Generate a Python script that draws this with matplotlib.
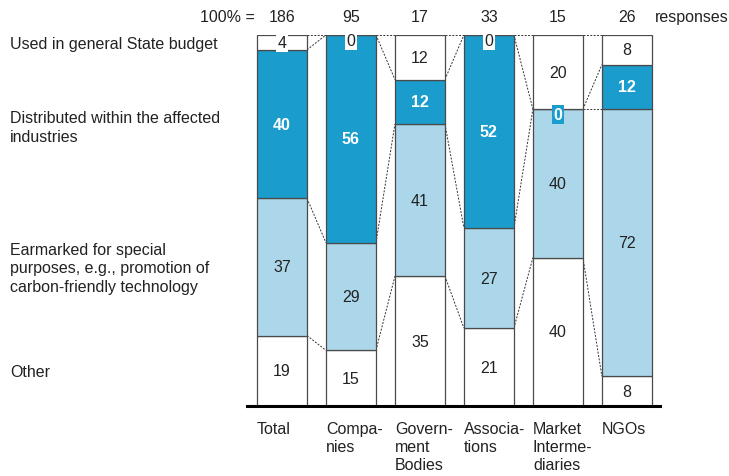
import numpy as np
import matplotlib.pyplot as plt

plt.rcParams['font.family'] = ['Liberation Sans', 'DejaVu Sans']

# Daten
categories = ['Total', 'Compa-\nnies', 'Govern-\nment\nBodies', 'Associa-\ntions',
              'Market\nInterme-\ndiaries', 'NGOs']
responses = [186, 95, 17, 33, 15, 26]
segments = ['Other',
            'Earmarked for special\npurposes, e.g., promotion of\ncarbon-friendly technology',
            'Distributed within the affected\nindustries',
            'Used in general State budget']
other = [19, 15, 35, 21, 40, 8]
earmarked = [37, 29, 41, 27, 40, 72]
distributed = [40, 56, 12, 52, 0, 12]
general = [4, 0, 12, 0, 20, 8]

DARK = '#1a9ccc'
LIGHT = '#acd7ea'
EDGE = '#4a4a4a'
TXT = '#222222'
FS = 11.5


def main():
    values = np.array([other, earmarked, distributed, general], dtype=float)
    colors = ['white', LIGHT, DARK, 'white']
    x = np.arange(len(categories))
    w = 0.725

    fig = plt.figure(figsize=(7.29, 4.77), dpi=100)
    ax = fig.add_axes([247 / 729, 70 / 477, 413 / 729, 371 / 477])
    ax.set_xlim(-0.507, 5.48)
    ax.set_ylim(0, 100)
    ax.axis('off')

    bottoms = np.zeros(len(categories))
    for k in range(4):
        ax.bar(x, values[k], width=w, bottom=bottoms, color=colors[k],
               edgecolor=EDGE, linewidth=0.9, zorder=2)
        for i in range(len(categories)):
            v = values[k][i]
            if v == 0:
                yc = bottoms[i] - 1.5
            else:
                yc = bottoms[i] + v / 2
            if k == 2:
                box = dict(boxstyle='square,pad=0.12', fc=DARK, ec='none') if v == 0 else None
                ax.text(x[i], yc, f'{v:.0f}', ha='center', va='center', color='white',
                        fontsize=FS, fontweight='bold', bbox=box, zorder=5)
            else:
                box = dict(boxstyle='square,pad=0.12', fc='white', ec='none') if v < 6 else None
                ax.text(x[i], yc, f'{v:.0f}', ha='center', va='center', color=TXT,
                        fontsize=FS, bbox=box, zorder=5)
        bottoms += values[k]

    # Verbindungslinien
    cum = np.cumsum(values, axis=0)
    for i in range(len(categories) - 1):
        for k in range(4):
            ax.plot([x[i] + w / 2, x[i + 1] - w / 2], [cum[k][i], cum[k][i + 1]],
                    ls=(0, (2, 1.5)), color='#333333', lw=0.7, zorder=1)

    # Basislinie
    ax.plot([-0.507, 5.48], [0, 0], color='black', lw=2.2, clip_on=False, zorder=4)

    # Kategorien unten
    for i, c in enumerate(categories):
        ax.text(x[i] - w / 2, -4.0, c, ha='left', va='top', fontsize=FS,
                color=TXT, linespacing=1.27)

    # Antworten oben
    ax.text(-0.39, 104.9, '100% =', ha='right', va='center', fontsize=FS, color=TXT)
    for i, n in enumerate(responses):
        ax.text(x[i], 104.9, str(n), ha='center', va='center', fontsize=FS, color=TXT)
    ax.text(5.41, 104.9, 'responses', ha='left', va='center', fontsize=FS, color=TXT)

    # Legende links
    for lab, yp in zip(segments, [9.4, 37.2, 75.2, 97.8]):
        ax.text(-3.94, yp, lab, ha='left', va='center', fontsize=FS, color=TXT,
                linespacing=1.3)

    fig.savefig('out.png', dpi=100)


if __name__ == '__main__':
    main()
